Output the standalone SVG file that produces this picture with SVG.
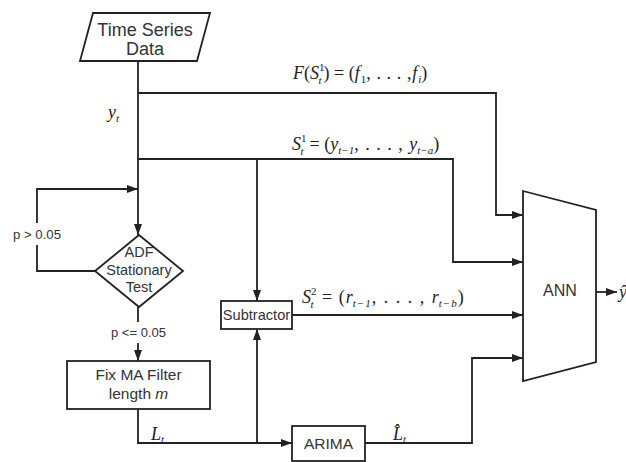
<svg xmlns="http://www.w3.org/2000/svg" width="626" height="462" viewBox="0 0 626 462">
<defs>
<marker id="ah" markerUnits="userSpaceOnUse" markerWidth="11" markerHeight="8" refX="11" refY="4" orient="auto">
<path d="M0,0 L11,4 L0,8 z" fill="#222"/>
</marker>
<style>
.shape{fill:#fff;stroke:#222;stroke-width:1.8}
.ln{fill:none;stroke:#222;stroke-width:1.8}
.arr{marker-end:url(#ah)}
.lbl{font-family:"Liberation Sans",Arial,sans-serif;fill:#333;text-anchor:middle}
.math{font-family:"Liberation Serif","Times New Roman",serif;font-style:italic;fill:#222;font-size:18px}
.sc{font-size:11px}
.up{font-style:normal}
</style>
</defs>
<rect width="626" height="462" fill="#fff"/>

<g id="connectors">
<path class="ln arr" d="M138,61 V235"/>
<path class="ln arr" d="M138,93 H496 V215 H523"/>
<path class="ln arr" d="M138,159 H453 V262 H523"/>
<path class="ln arr" d="M257,159 V301"/>
<path class="ln" d="M95,271 H37 V245"/>
<path class="ln arr" d="M37,223 V189 H138"/>
<path class="ln" d="M138,307 V322"/>
<path class="ln arr" d="M138,343 V361"/>
<path class="ln arr" d="M138,409 V443 H292"/>
<path class="ln arr" d="M257,443 V329"/>
<path class="ln arr" d="M292,315 H523"/>
<path class="ln arr" d="M365,443 H472 V358 H523"/>
<path class="ln arr" d="M596,292 H617"/>
</g>

<g id="data">
<polygon class="shape" points="93,13 210,13 197,61 80,61"/>
<text class="lbl" x="145" y="36" font-size="18">Time Series</text>
<text class="lbl" x="145" y="55" font-size="18">Data</text>
</g>

<g id="adf">
<polygon class="shape" points="139,235 183,271 139,307 95,271"/>
<text class="lbl" x="139" y="257" font-size="14.5">ADF</text>
<text class="lbl" x="139" y="275" font-size="14.5">Stationary</text>
<text class="lbl" x="139" y="292" font-size="14.5">Test</text>
</g>

<g id="fixma">
<rect class="shape" x="67" y="361" width="143" height="48"/>
<text class="lbl" x="138.5" y="380" font-size="15.5">Fix MA Filter</text>
<text class="lbl" x="138.5" y="399" font-size="15.5">length <tspan font-style="italic">m</tspan></text>
</g>

<g id="subtractor">
<rect class="shape" x="221" y="301" width="71" height="28"/>
<text class="lbl" x="256.5" y="320" font-size="14.6">Subtractor</text>
</g>

<g id="arima">
<rect class="shape" x="292" y="426" width="73" height="35"/>
<text class="lbl" x="328.5" y="449" font-size="15.5">ARIMA</text>
</g>

<g id="ann">
<polygon class="shape" points="523,191 596,210 596,362 523,381"/>
<text class="lbl" x="560" y="296" font-size="16">ANN</text>
</g>

<g id="labels">
<text class="lbl" x="37" y="239" font-size="13.2">p &gt; 0.05</text>
<text class="lbl" x="138.5" y="337" font-size="13">p &lt;= 0.05</text>

<text class="math" x="108" y="118">y<tspan class="sc" dy="4">t</tspan></text>

<text class="math" x="293" y="79">F<tspan class="up">(</tspan>S<tspan class="sc up" dy="-8">1</tspan><tspan class="sc" dx="-6" dy="13">t</tspan><tspan class="up" dx="2" dy="-5">) = (</tspan>f<tspan class="sc up" dx="1" dy="4">1</tspan><tspan class="up" dy="-4" letter-spacing="0.6">, . . . ,</tspan>f<tspan class="sc" dx="1" dy="4">i</tspan><tspan class="up" dy="-4">)</tspan></text>

<text class="math" x="292" y="150">S<tspan class="sc up" dy="-8">1</tspan><tspan class="sc" dx="-6" dy="13">t</tspan><tspan class="up" dx="6" dy="-5">= (</tspan>y<tspan class="sc" dy="4">t−1</tspan><tspan class="up" dy="-4" letter-spacing="1">, . . . , </tspan>y<tspan class="sc" dy="4">t−a</tspan><tspan class="up" dy="-4">)</tspan></text>

<text class="math" x="302" y="303">S<tspan class="sc up" dy="-8">2</tspan><tspan class="sc" dx="-6" dy="13">t</tspan><tspan class="up" dx="3" dy="-5" letter-spacing="1"> = (</tspan>r<tspan class="sc" dy="4" letter-spacing="1">t−1</tspan><tspan class="up" dy="-4" letter-spacing="1.5">, . . . , </tspan>r<tspan class="sc" dy="4" letter-spacing="1">t−b</tspan><tspan class="up" dy="-4">)</tspan></text>

<text class="math" x="151" y="440">L<tspan class="sc" dy="3">t</tspan></text>
<text class="math" x="393" y="440">L̂<tspan class="sc" dy="3">t</tspan></text>

<text class="math" x="619" y="298">ŷ</text>
</g>
</svg>
